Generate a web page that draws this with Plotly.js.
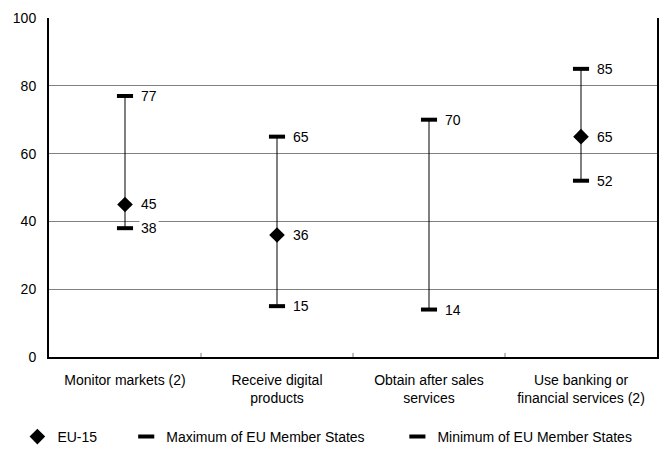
<!DOCTYPE html>
<html><head><meta charset="utf-8">
<script src="https://cdn.plot.ly/plotly-3.0.1.min.js"></script>
<style>body{margin:0;background:#fff}</style>
</head><body><div id="chart" style="width:672px;height:452px"></div>
<script>
const categories = ["Monitor markets (2)", "Receive digital<br>products", "Obtain after sales<br>services", "Use banking or<br>financial services (2)"];
const eu15 = [45, 36, null, 65];
const maxMS = [77, 65, 70, 85];
const minMS = [38, 15, 14, 52];
const yTicks = [0, 20, 40, 60, 80, 100];

const FONT = "Liberation Sans, Arial, sans-serif";
const cx = categories.map((c, i) => i);

// range lines from min to max
const rx = [], ry = [];
cx.forEach((x, i) => { rx.push(x, x, null); ry.push(minMS[i], maxMS[i], null); });

const traces = [
  {x: rx, y: ry, mode: 'lines', line: {color: '#000', width: 1}, showlegend: false, hoverinfo: 'skip'},
  {x: cx, y: maxMS, mode: 'markers', name: 'Maximum of EU Member States', legend: 'legend2',
   marker: {symbol: 'line-ew', size: 11.5, color: '#000', line: {color: '#000', width: 4}}},
  {x: cx, y: minMS, mode: 'markers', name: 'Minimum of EU Member States', legend: 'legend3',
   marker: {symbol: 'line-ew', size: 11.5, color: '#000', line: {color: '#000', width: 4}}},
  {x: cx, y: eu15, mode: 'markers', name: 'EU-15', legend: 'legend',
   marker: {symbol: 'diamond', size: 12, color: '#000', line: {width: 0}}}
];

const annotations = [];
[[maxMS], [minMS], [eu15]].forEach(([arr]) => {
  arr.forEach((v, i) => {
    if (v === null) return;
    annotations.push({x: cx[i], y: v, xref: 'x', yref: 'y', text: String(v), showarrow: false,
      xanchor: 'left', yanchor: 'middle', xshift: 14, bgcolor: '#fff', borderpad: 1,
      font: {family: FONT, size: 14, color: '#000'}});
  });
});

const legFont = {family: FONT, size: 14, color: '#000'};
const legY = 15 / 452;
const legBase = {orientation: 'h', xanchor: 'left', yref: 'container', y: legY, yanchor: 'middle',
  font: legFont, bgcolor: 'rgba(0,0,0,0)', itemwidth: 30};
const layout = {
  width: 672, height: 452,
  margin: {l: 49, r: 15, t: 18, b: 95},
  paper_bgcolor: '#fff', plot_bgcolor: '#fff',
  font: {family: FONT, size: 14, color: '#000'},
  xaxis: {
    type: 'linear', range: [-0.5, 3.5], tickvals: cx, ticktext: categories,
    showgrid: false, zeroline: false, showline: true, linecolor: '#000', linewidth: 2,
    ticks: '', tickfont: {family: FONT, size: 14, color: '#000'}, ticklabelstandoff: 9
  },
  yaxis: {
    range: [0, 100], tickvals: yTicks, showgrid: true, gridcolor: '#808080', gridwidth: 1,
    zeroline: false, showline: true, mirror: true, linecolor: '#000', linewidth: 2,
    ticks: '', tickfont: {family: FONT, size: 14, color: '#000'}, ticklabelstandoff: 8
  },
  shapes: [1, 2, 3].map(b => ({type: 'line', xref: 'x', yref: 'paper', x0: b - 0.5, x1: b - 0.5,
    y0: 0, y1: 0.012, line: {color: '#808080', width: 1}})),
  annotations: annotations,
  legend: Object.assign({}, legBase, {x: -0.052}),
  legend2: Object.assign({}, legBase, {x: 0.127}),
  legend3: Object.assign({}, legBase, {x: 0.573})
};

Plotly.newPlot('chart', traces, layout, {displayModeBar: false, staticPlot: true});
</script></body></html>
